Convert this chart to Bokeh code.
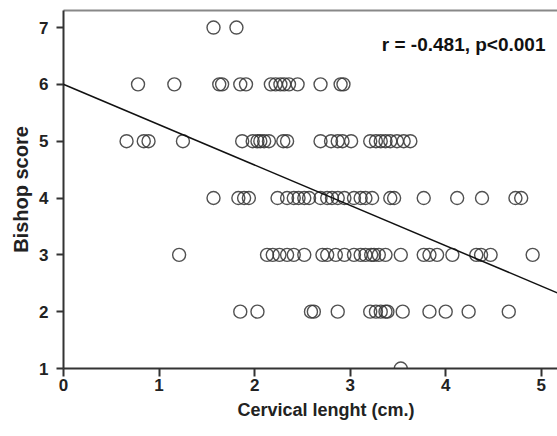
from bokeh.plotting import figure
from bokeh.models import Range1d, FixedTicker, LinearAxis, Slope, Label, Title
from bokeh.embed import file_html
from bokeh.resources import INLINE

# Data (Bishop score rows)
score7 = [1.57, 1.81]
score6 = [0.78, 1.16, 1.63, 1.66, 1.85, 1.91, 2.17, 2.22, 2.27, 2.31, 2.36, 2.45, 2.69, 2.90, 2.93]
score5 = [0.66, 0.84, 0.89, 1.25, 1.87, 1.98, 2.03, 2.06, 2.10, 2.15, 2.30, 2.34, 2.69, 2.80,
          2.87, 2.92, 3.01, 3.21, 3.27, 3.32, 3.37, 3.42, 3.49, 3.56, 3.63]
score4 = [1.57, 1.83, 1.89, 1.94, 2.24, 2.34, 2.41, 2.46, 2.52, 2.57, 2.69, 2.76, 2.81, 2.87,
          2.94, 3.04, 3.11, 3.16, 3.23, 3.42, 3.46, 3.77, 4.12, 4.38, 4.73, 4.79]
score3 = [1.21, 2.13, 2.19, 2.26, 2.34, 2.41, 2.52, 2.71, 2.76, 2.85, 2.94, 3.04, 3.11, 3.16,
          3.22, 3.25, 3.30, 3.37, 3.53, 3.77, 3.83, 3.91, 4.07, 4.32, 4.37, 4.47, 4.91]
score2 = [1.85, 2.03, 2.59, 2.62, 2.87, 3.21, 3.27, 3.32, 3.37, 3.39, 3.55, 3.83, 4.00, 4.24, 4.66]
score1 = [3.53]

rows = {7: score7, 6: score6, 5: score5, 4: score4, 3: score3, 2: score2, 1: score1}
cervical = [x for s, xs in rows.items() for x in xs]
bishop = [s for s, xs in rows.items() for _ in xs]

fit_intercept = 6.0
fit_slope = -0.71
annotation_text = "r = -0.481, p<0.001"
x_title = "Cervical lenght (cm.)"
y_title = "Bishop score"
x_ticks = [0, 1, 2, 3, 4, 5]
y_ticks = [1, 2, 3, 4, 5, 6, 7]

FONT = "Liberation Sans"

p = figure(width=557, height=436, output_backend="svg", toolbar_location=None,
           x_range=Range1d(0, 5.17), y_range=Range1d(1, 7.30),
           min_border_left=63, min_border_right=0, min_border_top=10, min_border_bottom=68)
p.outline_line_color = None
p.xgrid.visible = False
p.ygrid.visible = False
p.background_fill_color = "white"
p.border_fill_color = "white"

p.scatter(cervical, bishop, marker="circle", size=13, fill_color=None,
          line_color="#333333", line_alpha=0.85, line_width=1.4)

p.add_layout(Slope(gradient=fit_slope, y_intercept=fit_intercept,
                   line_color="#111111", line_width=1.5))

p.add_layout(Label(x=482, y=324, x_units="screen", y_units="screen",
                   text=annotation_text, text_font=FONT, text_font_style="bold",
                   text_font_size="19px", text_color="#111111",
                   text_align="right", text_baseline="middle"))

for ax in (p.xaxis[0], p.yaxis[0]):
    ax.axis_line_color = "#333333"
    ax.axis_line_width = 2
    ax.major_tick_line_color = "#333333"
    ax.major_tick_line_width = 2
    ax.major_tick_in = 0
    ax.minor_tick_line_color = None
    ax.major_label_text_font = FONT
    ax.major_label_text_font_style = "bold"
    ax.major_label_text_font_size = "17px"
    ax.major_label_text_color = "#222222"
    ax.axis_label_text_font = FONT
    ax.axis_label_text_font_style = "bold"
    ax.axis_label_text_color = "#222222"

p.xaxis[0].ticker = FixedTicker(ticks=x_ticks)
p.yaxis[0].ticker = FixedTicker(ticks=y_ticks)
p.yaxis[0].axis_label = y_title
p.yaxis[0].axis_label_text_font_size = "20px"
p.xaxis[0].major_tick_out = 8
p.yaxis[0].major_tick_out = 7
p.xaxis[0].major_label_standoff = 2
p.yaxis[0].major_label_standoff = 8
p.yaxis[0].axis_label_standoff = 4

# x-axis title: the original frame runs past the right edge, so the title sits right of centre
xt = Title(text=x_title, align="left", offset=174, text_font=FONT,
           text_font_style="bold", text_font_size="18px", text_color="#222222",
           standoff=8)
p.add_layout(xt, "below")

top = LinearAxis(ticker=FixedTicker(ticks=[]), major_tick_out=0, major_tick_in=0,
                 minor_tick_out=0, minor_tick_in=0, major_label_standoff=0,
                 axis_line_color="#888888", axis_line_width=2)
p.add_layout(top, "above")

open("out.html", "w").write(file_html(p, INLINE))
